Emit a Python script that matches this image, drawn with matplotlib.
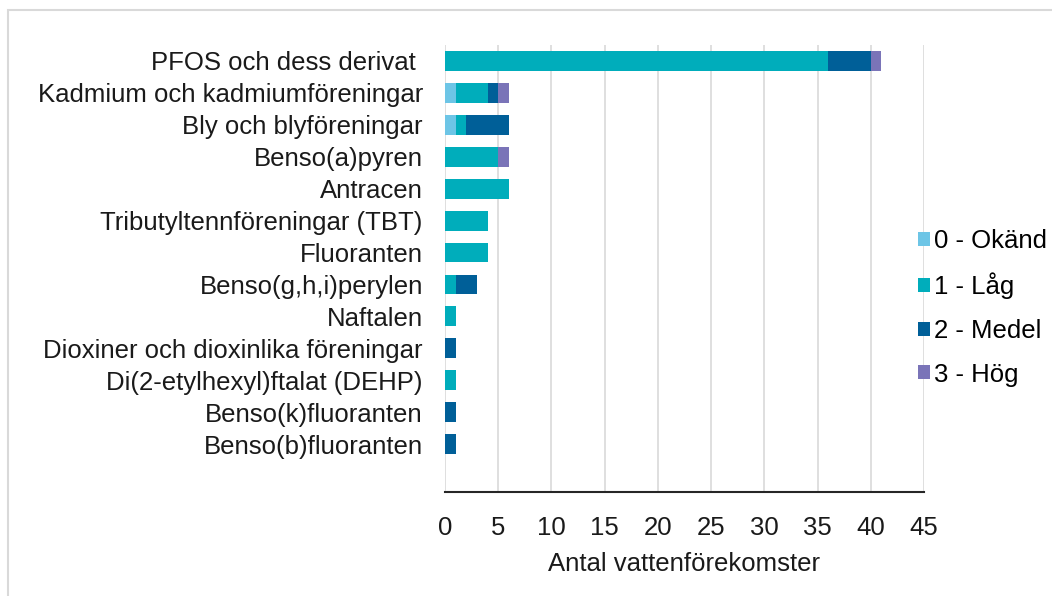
import matplotlib
matplotlib.use("Agg")
import matplotlib.pyplot as plt
from matplotlib.patches import Rectangle
import numpy as np

categories = [
    "PFOS och dess derivat ",
    "Kadmium och kadmiumföreningar",
    "Bly och blyföreningar",
    "Benso(a)pyren",
    "Antracen",
    "Tributyltennföreningar (TBT)",
    "Fluoranten",
    "Benso(g,h,i)perylen",
    "Naftalen",
    "Dioxiner och dioxinlika föreningar",
    "Di(2-etylhexyl)ftalat (DEHP)",
    "Benso(k)fluoranten",
    "Benso(b)fluoranten",
]
okand = [0, 1, 1, 0, 0, 0, 0, 0, 0, 0, 0, 0, 0]
lag = [36, 3, 1, 5, 6, 4, 4, 1, 1, 0, 1, 0, 0]
medel = [4, 1, 4, 0, 0, 0, 0, 2, 0, 1, 0, 1, 1]
hog = [1, 1, 0, 1, 0, 0, 0, 0, 0, 0, 0, 0, 0]

series = [
    ("0 - Okänd", okand, "#6dc5e6"),
    ("1 - Låg", lag, "#00adbb"),
    ("2 - Medel", medel, "#005f98"),
    ("3 - Hög", hog, "#7a74b8"),
]

plt.rcParams["font.family"] = ["Liberation Sans", "DejaVu Sans"]
FS = 18.5

fig = plt.figure(figsize=(10.52, 5.96), dpi=100)
ax = fig.add_axes([445 / 1052, 104 / 596, 479 / 1052, 447 / 596])

# light frame around the chart area
fig.patches.append(Rectangle((8 / 1052, -0.1), 1.2, (596 - 10) / 596 + 0.1,
                             transform=fig.transFigure, fill=False,
                             edgecolor="#d9d9d9", linewidth=1.5))

y = np.arange(len(categories))
left = np.zeros(len(categories))
for name, vals, color in series:
    vals = np.array(vals, dtype=float)
    ax.barh(y, vals, left=left, height=0.62, color=color, label=name, zorder=3)
    left += vals

ax.set_ylim(len(categories) + 0.5, -0.5)
ax.set_xlim(0, 45)
ax.set_xticks(np.arange(0, 46, 5))
ax.set_yticks(y)
ax.set_yticklabels(categories, fontsize=FS, color="#1a1a1a")
ax.tick_params(axis="y", length=0, pad=16)
ax.tick_params(axis="x", length=0, pad=17, labelsize=FS, labelcolor="#1a1a1a")
ax.xaxis.grid(True, color="#d9d9d9", linewidth=1.2, zorder=0)

for s in ["top", "right", "left"]:
    ax.spines[s].set_visible(False)
ax.spines["bottom"].set_color("#262626")
ax.spines["bottom"].set_linewidth(1.5)

ax.set_xlabel("Antal vattenförekomster", fontsize=FS, color="#1a1a1a", labelpad=9)

handles, labels = ax.get_legend_handles_labels()
leg = fig.legend(handles, labels, loc="upper left", bbox_to_anchor=(908 / 1052, 1 - 219 / 596),
                 frameon=False, fontsize=FS, handlelength=0.45, handleheight=0.45,
                 handletextpad=0.15, labelspacing=0.76, borderaxespad=0)

fig.savefig("out.png", dpi=100)
plt.close(fig)
